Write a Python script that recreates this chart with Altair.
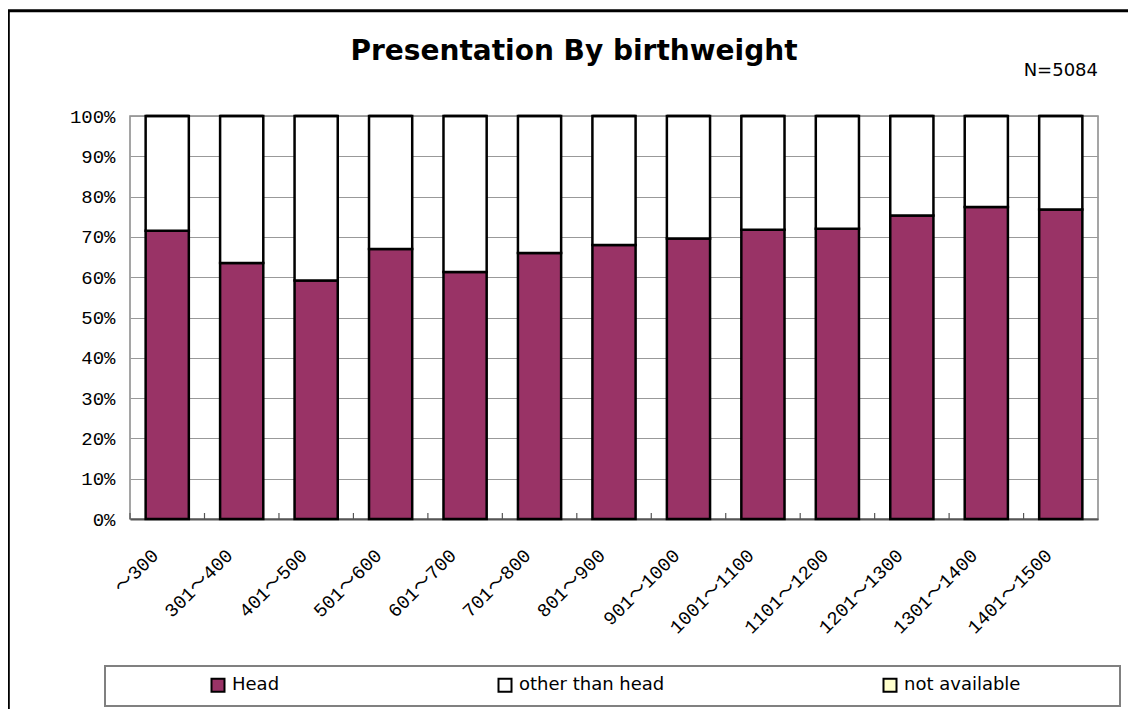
import altair as alt
import pandas as pd

categories = ["～300", "301～400", "401～500", "501～600", "601～700", "701～800",
              "801～900", "901～1000", "1001～1100", "1101～1200", "1201～1300",
              "1301～1400", "1401～1500"]
head = [71.5, 63.5, 59.2, 67.0, 61.3, 66.0, 68.0, 69.6, 71.8, 72.0, 75.3, 77.4, 76.8]
other = [28.5, 36.5, 40.8, 33.0, 38.7, 34.0, 32.0, 30.4, 28.2, 28.0, 24.7, 22.6, 23.2]
not_available = [0, 0, 0, 0, 0, 0, 0, 0, 0, 0, 0, 0, 0]
series = ["Head", "other than head", "not available"]
colors = ["#993366", "#FFFFFF", "#FFFFCC"]
y_ticks = [0, 10, 20, 30, 40, 50, 60, 70, 80, 90, 100]

rows = []
for i, c in enumerate(categories):
    for j, (s, vals) in enumerate(zip(series, [head, other, not_available])):
        rows.append({"cat": c, "series": s, "value": vals[i], "idx": j})
df = pd.DataFrame(rows)
cat_df = pd.DataFrame({"cat": categories})

W, H = 968, 403

x_enc = alt.X("cat:N", sort=categories,
              scale=alt.Scale(paddingInner=0.42, paddingOuter=0.21),
              axis=alt.Axis(title=None, labelAngle=-45, labelAlign="right",
                            labelBaseline="middle",
                            labelFont="Liberation Mono, Noto Sans CJK JP",
                            labelFontSize=19, labelColor="black", labelPadding=33,
                            labelOffset=-12, ticks=False, tickSize=0, grid=False,
                            domainColor="#555555", domainWidth=2))

bars = alt.Chart(df).mark_bar(stroke="black", strokeWidth=2.5).encode(
    x=x_enc,
    y=alt.Y("value:Q", stack="zero",
            scale=alt.Scale(domain=[0, 100], nice=False),
            axis=alt.Axis(title=None, values=y_ticks, labelExpr="datum.value + '%'",
                          labelFont="Liberation Mono", labelFontSize=19,
                          labelColor="black", labelPadding=15, ticks=False,
                          domain=False, grid=True, gridColor="#999999",
                          gridWidth=1)),
    color=alt.Color("series:N",
                    scale=alt.Scale(domain=series, range=colors),
                    legend=alt.Legend(title=None, orient="none", legendX=79,
                                      legendY=560, direction="horizontal",
                                      columnPadding=214, padding=0,
                                      symbolType="square", symbolSize=169,
                                      symbolStrokeColor="black",
                                      symbolStrokeWidth=2,
                                      labelFont="DejaVu Sans",
                                      labelFontSize=18, labelColor="black",
                                      labelOffset=5, labelLimit=400)),
    order=alt.Order("idx:Q"),
)

# small inward ticks at category boundaries
inner_ticks = alt.Chart(cat_df).mark_rule(color="#555555", strokeWidth=1.2).encode(
    x=alt.X("cat:N", sort=categories, bandPosition=0),
    xOffset=alt.value(-15.6),
    y=alt.value(H - 6), y2=alt.value(H))

one = pd.DataFrame({"t": ["x"]})

outer_border = alt.Chart(one).mark_rect(fillOpacity=0, stroke="black",
                                        strokeWidth=3).encode(
    x=alt.value(-121.7), x2=alt.value(1200), y=alt.value(-105.2), y2=alt.value(800))

legend_box = alt.Chart(one).mark_rect(fillOpacity=0, stroke="#808080",
                                      strokeWidth=2).encode(
    x=alt.value(-25), x2=alt.value(990), y=alt.value(550), y2=alt.value(590))

title = alt.Chart(pd.DataFrame({"t": ["Presentation By birthweight"]})).mark_text(
    font="DejaVu Sans", fontWeight="bold", fontSize=28, align="center",
    baseline="alphabetic", color="black").encode(
    x=alt.value(444), y=alt.value(-56), text="t:N")

ntext = alt.Chart(pd.DataFrame({"t": ["N=5084"]})).mark_text(
    font="DejaVu Sans", fontSize=18, align="right", baseline="alphabetic",
    color="black").encode(
    x=alt.value(968), y=alt.value(-40), text="t:N")

chart = alt.layer(outer_border, legend_box, bars, inner_ticks, title, ntext).properties(
    width=W, height=H,
    autosize=alt.AutoSizeParams(type="none"),
    padding={"left": 122, "top": 108, "right": 30, "bottom": 190},
    background="white",
).configure_view(stroke="#888888", strokeWidth=1.5)

chart.save("out.html", embed_options={"renderer": "svg", "actions": False})
